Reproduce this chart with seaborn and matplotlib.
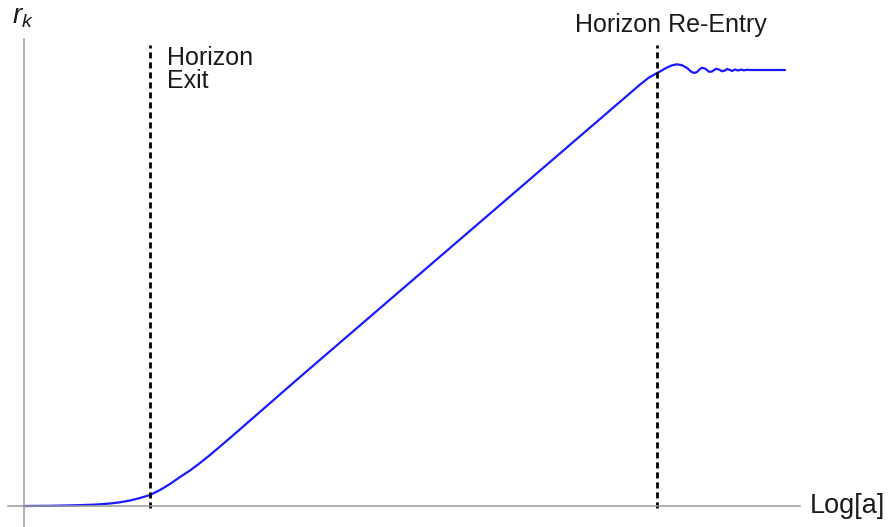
import matplotlib
matplotlib.use("Agg")
import matplotlib.pyplot as plt
import seaborn as sns

# curve (Log[a], r_k) in arbitrary units
log_a = [0.00, 0.26, 0.51, 0.71, 0.86, 0.96, 1.06, 1.16, 1.26, 1.36, 1.46,
         1.56, 1.66, 1.76, 1.86, 1.96, 2.06, 2.76, 3.76, 4.76, 5.76, 6.16,
         6.25, 6.337, 6.43, 6.48, 6.53, 6.58, 6.63, 6.67, 6.70, 6.73, 6.76,
         6.78, 6.81, 6.85, 6.88, 6.92, 6.95, 6.98, 7.01, 7.03, 7.06, 7.08,
         7.11, 7.14, 7.17, 7.20, 7.23, 7.26, 7.61]
r_k = [0.000, 0.002, 0.007, 0.014, 0.025, 0.037, 0.055, 0.080, 0.110, 0.160,
       0.220, 0.290, 0.355, 0.430, 0.510, 0.595, 0.680, 1.290, 2.150, 3.010,
       3.870, 4.214, 4.285, 4.333, 4.385, 4.407, 4.417, 4.408, 4.380, 4.345,
       4.330, 4.340, 4.370, 4.382, 4.375, 4.342, 4.345, 4.372, 4.365, 4.347,
       4.355, 4.370, 4.360, 4.350, 4.365, 4.355, 4.364, 4.357, 4.362, 4.360,
       4.360]
horizon_exit = 1.26
horizon_reentry = 6.33
vline_top = 4.61

sns.set_theme(style="white")
plt.rcParams["font.family"] = ["Liberation Sans", "DejaVu Sans"]
plt.rcParams["mathtext.fontset"] = "custom"
plt.rcParams["mathtext.it"] = "Liberation Sans:italic"
plt.rcParams["mathtext.rm"] = "Liberation Sans"

W, H = 889, 527
fig = plt.figure(figsize=(W / 100, H / 100), dpi=100)
ax = fig.add_axes([8 / W, 0, 792 / W, 488 / H])

sns.lineplot(x=log_a, y=r_k, sort=False, estimator=None, color="#1a1aff",
             linewidth=1.6, ax=ax)

for xv in (horizon_exit, horizon_reentry):
    ax.plot([xv, xv], [-0.02, vline_top], color="black", linewidth=2.0,
            linestyle=(0, (2.2, 1.4)))

ax.set_xlim(-0.16, 7.76)
ax.set_ylim(-0.21, 4.67)
ax.set_xticks([])
ax.set_yticks([])
for s in ("top", "right"):
    ax.spines[s].set_visible(False)
for s in ("left", "bottom"):
    ax.spines[s].set_position(("data", 0))
    ax.spines[s].set_color("#999999")
    ax.spines[s].set_linewidth(1.1)

tc = "#1a1a1a"
fs = 18
fig.text(167 / W, 1 - 88.3 / H, "Horizon\nExit", fontsize=fs, color=tc,
         ha="left", va="baseline", linespacing=0.95)
fig.text(575 / W, 1 - 32 / H, "Horizon Re-Entry", fontsize=fs, color=tc,
         ha="left", va="baseline")
fig.text(810 / W, 1 - 513 / H, "Log[a]", fontsize=19.5, color=tc,
         ha="left", va="baseline")
fig.text(12 / W, 1 - 24 / H, r"$r_k$", fontsize=20, color=tc,
         ha="left", va="baseline")

fig.savefig("out.png", dpi=100)
